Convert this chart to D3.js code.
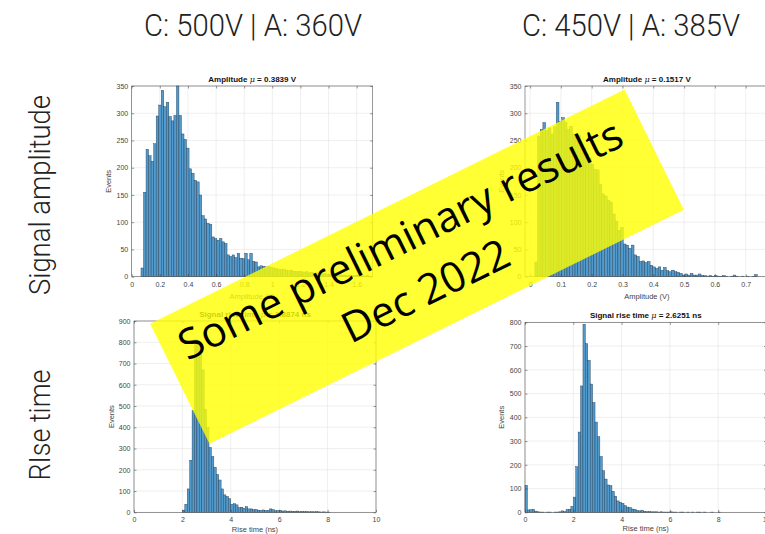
<!DOCTYPE html>
<html>
<head>
<meta charset="utf-8">
<script src="https://cdn.jsdelivr.net/npm/d3@7"></script>
<style>
  body { margin: 0; background: #fff; }
</style>
</head>
<body>
<svg id="chart" width="765" height="534"></svg>
<script>
// ---- data ----
const columnHeaders = ["C: 500V | A: 360V", "C: 450V | A: 385V"];
const rowHeaders = ["Signal amplitude", "RIse time"];

// amplitude, C 500V / A 360V  (bin start, bin width, counts)
const ampLeftStart = 0.066, ampLeftBin = 0.018;
const ampLeftCounts = [16,155,234,222,212,244,295,315,342,312,320,294,286,296,350,296,262,252,236,198,
  190,177,174,150,112,106,98,96,73,70,67,70,64,61,40,37,40,35,43,34,
  33,43,31,43,28,27,18,20,19,18,19,17,16,15,14,13,14,12,11,12,
  10,9,10,9,8,9,7,8,6,7,6,5,6,5,4,5,4,3,4,3,
  3,2,3,2,2,3,1,2,1,2,1];

// amplitude, C 450V / A 385V
const ampRightStart = 0.0155, ampRightBin = 0.0087;
const ampRightCounts = [27,258,270,283,268,273,262,275,320,285,292,283,270,276,262,255,259,242,236,225,
  218,206,197,196,170,152,148,140,137,115,102,85,90,60,58,52,58,40,37,28,
  29,26,28,21,18,15,18,12,17,11,9,12,9,8,6,3,5,3,6,3,
  3,5,2,2,1,2,1,2,1,1,2,1,0,1,3,1,0,1,0,1,
  0,1,4];

// rise time, C 500V / A 360V
const riseLeftStart = 2.0, riseBin = 0.1;
const riseLeftCounts = [10,38,110,245,478,812,805,745,670,485,400,305,262,212,178,152,110,82,75,64,
  38,40,35,22,24,19,27,16,16,12,13,10,9,11,8,9,16,12,7,8,
  9,6,7,5,6,4,5,6,3,4,3,4,2,3,2,3,2,1,2,1,1];

// rise time, C 450V / A 385V
const riseRightStart = 0.0;
const riseRightCounts = [114,10,11,12,5,2,1,1,0,1,1,0,1,1,2,6,3,12,13,25,
  64,192,338,532,792,710,640,540,462,380,318,235,175,140,115,112,88,68,48,42,
  38,28,22,20,14,12,8,6,9,4,3,3,2,2,2,1,2,1,1,1,
  2,1,1,0,1,1,0,1,0,1,0,1,1,0,1,0,0,1,0,0,1];

const ampLeftTicks = [0,0.2,0.4,0.6,0.8,1,1.2,1.4,1.6];
const ampRightTicks = [0,0.1,0.2,0.3,0.4,0.5,0.6,0.7];
const riseTicks = [0,2,4,6,8,10];
const ampYTicks = [0,50,100,150,200,250,300,350];
const riseLeftYTicks = [0,100,200,300,400,500,600,700,800,900];
const riseRightYTicks = [0,100,200,300,400,500,600,700,800];

const panelTitles = [
  ["Amplitude ", "0.3839 V"],
  ["Amplitude ", "0.1517 V"],
  ["Signal rise time ", "2.8874 ns"],
  ["Signal rise time ", "2.6251 ns"]
];
const xLabels = ["Amplitude (V)", "Amplitude (V)", "Rise time (ns)", "Rise time (ns)"];

const bannerLines = ["Some preliminary results", "Dec 2022"];

// ---- drawing ----
const svg = d3.select("#chart");
const plotFont = "'Liberation Sans', Arial, sans-serif";
const fmt = d => String(+d.toFixed(2));

function histogram(p) {
  const g = svg.append("g").attr("transform", `translate(${p.x},${p.y})`);
  const x = d3.scaleLinear().domain(p.xDomain).range([0, p.w]);
  const y = d3.scaleLinear().domain(p.yDomain).range([p.h, 0]);

  // grid
  g.append("g").selectAll("line").data(p.xTicks).join("line")
    .attr("x1", d => x(d)).attr("x2", d => x(d))
    .attr("y1", 0).attr("y2", p.h)
    .attr("stroke", "#e4e4e4").attr("stroke-width", 0.6);
  g.append("g").selectAll("line").data(p.yTicks).join("line")
    .attr("x1", 0).attr("x2", p.w)
    .attr("y1", d => y(d)).attr("y2", d => y(d))
    .attr("stroke", "#e4e4e4").attr("stroke-width", 0.6);

  // bars
  g.append("g").selectAll("rect").data(p.counts).join("rect")
    .attr("x", (d, i) => x(p.start + i * p.bin))
    .attr("width", (d, i) => x(p.start + (i + 1) * p.bin) - x(p.start + i * p.bin))
    .attr("y", d => y(d))
    .attr("height", d => p.h - y(d))
    .attr("fill", "#5299cc")
    .attr("stroke", "#203a50")
    .attr("stroke-width", 0.4);

  // axes with inward ticks
  const styleAxis = sel => {
    sel.select(".domain").remove();
    sel.selectAll("line").attr("stroke", "#333").attr("stroke-width", 0.5);
    sel.selectAll("text").attr("font-family", plotFont).attr("font-size", 7).attr("fill", "#444");
  };
  g.append("g").attr("transform", `translate(0,${p.h})`)
    .call(d3.axisBottom(x).tickValues(p.xTicks).tickSize(-2.5).tickPadding(5).tickFormat(fmt))
    .call(styleAxis);
  g.append("g")
    .call(d3.axisTop(x).tickValues(p.xTicks).tickSize(-2.5).tickFormat(""))
    .call(styleAxis);
  g.append("g")
    .call(d3.axisLeft(y).tickValues(p.yTicks).tickSize(-2.5).tickPadding(3.5))
    .call(styleAxis);
  g.append("g").attr("transform", `translate(${p.w},0)`)
    .call(d3.axisRight(y).tickValues(p.yTicks).tickSize(-2.5).tickFormat(""))
    .call(styleAxis);

  g.append("rect").attr("width", p.w).attr("height", p.h)
    .attr("fill", "none").attr("stroke", "#555").attr("stroke-width", 0.6);

  // title
  const t = g.append("text").attr("x", p.w / 2).attr("y", -4.5)
    .attr("text-anchor", "middle").attr("font-family", plotFont)
    .attr("font-size", 8).attr("font-weight", "bold").attr("fill", "#111");
  t.append("tspan").text(p.title[0]);
  t.append("tspan").attr("font-style", "italic").attr("font-weight", "normal").attr("font-family", "'DejaVu Serif', serif").text("\u03bc");
  t.append("tspan").text(" = " + p.title[1]);

  // axis labels
  g.append("text").attr("x", p.w / 2).attr("y", p.h + p.xLabelGap)
    .attr("text-anchor", "middle").attr("font-family", plotFont)
    .attr("font-size", 7.5).attr("fill", "#444").text(p.xLabel);
  g.append("text").attr("transform", `translate(${p.yLabelX},${p.h / 2}) rotate(-90)`)
    .attr("text-anchor", "middle").attr("font-family", plotFont)
    .attr("font-size", 7.5).attr("fill", "#444").text("Events");
}

histogram({ x: 131.7, y: 86, w: 241, h: 190.7, xDomain: [0, 1.714], yDomain: [0, 350],
  xTicks: ampLeftTicks, yTicks: ampYTicks, counts: ampLeftCounts, start: ampLeftStart, bin: ampLeftBin,
  title: panelTitles[0], xLabel: xLabels[0], yLabelX: -21, xLabelGap: 22 });
histogram({ x: 525, y: 86, w: 243.8, h: 190.7, xDomain: [-0.0165, 0.775], yDomain: [0, 350],
  xTicks: ampRightTicks, yTicks: ampYTicks, counts: ampRightCounts, start: ampRightStart, bin: ampRightBin,
  title: panelTitles[1], xLabel: xLabels[1], yLabelX: -21, xLabelGap: 22 });
histogram({ x: 134, y: 321, w: 242, h: 191.3, xDomain: [0, 10], yDomain: [0, 900],
  xTicks: riseTicks, yTicks: riseLeftYTicks, counts: riseLeftCounts, start: riseLeftStart, bin: riseBin,
  title: panelTitles[2], xLabel: xLabels[2], yLabelX: -20, xLabelGap: 19.5 });
histogram({ x: 525, y: 322.3, w: 241.5, h: 190, xDomain: [0, 10], yDomain: [0, 800],
  xTicks: riseTicks, yTicks: riseRightYTicks, counts: riseRightCounts, start: riseRightStart, bin: riseBin,
  title: panelTitles[3], xLabel: xLabels[3], yLabelX: -21, xLabelGap: 18.5 });

// headers
const headFont = "Roboto, 'Liberation Sans', sans-serif";
svg.selectAll(".colhead").data(columnHeaders).join("text")
  .attr("class", "colhead")
  .attr("x", (d, i) => [253, 631][i]).attr("y", 36)
  .attr("text-anchor", "middle").attr("font-family", headFont)
  .attr("font-weight", 300).attr("font-size", 31).attr("fill", "#222")
  .attr("textLength", 218).attr("lengthAdjust", "spacingAndGlyphs")
  .text(d => d);
svg.selectAll(".rowhead").data(rowHeaders).join("text")
  .attr("class", "rowhead")
  .attr("transform", (d, i) => `translate(50,${[195, 425][i]}) rotate(-90)`)
  .attr("text-anchor", "middle").attr("font-family", headFont)
  .attr("font-weight", 300).attr("font-size", 29).attr("fill", "#222")
  .attr("textLength", (d, i) => [200, 111][i]).attr("lengthAdjust", "spacingAndGlyphs")
  .text(d => d);

// banner
const banner = svg.append("g").attr("transform", "translate(417,266.7) rotate(-26.26)");
banner.append("rect").attr("x", -264.5).attr("y", -67).attr("width", 529).attr("height", 134)
  .attr("fill", "#ffff00").attr("fill-opacity", 0.8);
banner.selectAll("text").data(bannerLines).join("text")
  .attr("x", -3).attr("y", (d, i) => [-17, 40][i])
  .attr("text-anchor", "middle").attr("font-family", "'Open Sans', sans-serif")
  .attr("font-size", 42).attr("fill", "#000")
  .text(d => d);
</script>
</body>
</html>
